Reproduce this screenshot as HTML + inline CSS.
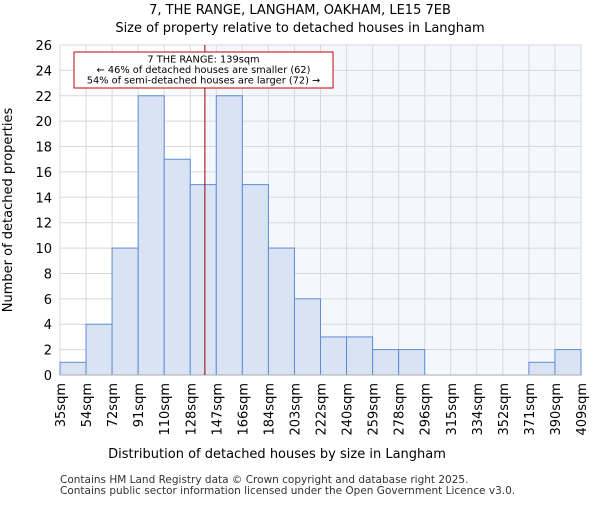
<!DOCTYPE html>
<html><head><meta charset="utf-8"><style>
body{margin:0;background:#fff;font-family:"Liberation Sans","DejaVu Sans",sans-serif}
</style></head><body>
<svg id="c" width="600" height="500" xmlns="http://www.w3.org/2000/svg" font-family="DejaVu Sans, Liberation Sans, sans-serif">
<text x="300" y="14" text-anchor="middle" font-size="13">7, THE RANGE, LANGHAM, OAKHAM, LE15 7EB</text>
<text x="300" y="32" text-anchor="middle" font-size="13">Size of property relative to detached houses in Langham</text>
<g id="plot"></g>
<text x="277" y="458" text-anchor="middle" font-size="13">Distribution of detached houses by size in Langham</text>
<text transform="translate(12,210) rotate(-90)" text-anchor="middle" font-size="13">Number of detached properties</text>
<text x="60" y="483" font-size="10.5" fill="#333">Contains HM Land Registry data © Crown copyright and database right 2025.</text>
<text x="60" y="494" font-size="10.5" fill="#333">Contains public sector information licensed under the Open Government Licence v3.0.</text>
</svg>
<script>
const categories=["35sqm","54sqm","72sqm","91sqm","110sqm","128sqm","147sqm","166sqm","184sqm","203sqm","222sqm","240sqm","259sqm","278sqm","296sqm","315sqm","334sqm","352sqm","371sqm","390sqm","409sqm"];
const counts=[1,4,10,22,17,15,22,15,10,6,3,3,2,2,0,0,0,0,1,2];
const yTicks=[0,2,4,6,8,10,12,14,16,18,20,22,24,26];
const binStart=35, binEnd=409, propertySize=139;
const X0=60,X1=581,Y0=375,Y1=45,YMAX=26;
const NS="http://www.w3.org/2000/svg";
const g=document.getElementById('plot');
const xb=i=>X0+i*(X1-X0)/counts.length;
const xv=v=>X0+(v-binStart)/(binEnd-binStart)*(X1-X0);
const y=v=>Y0-v/YMAX*(Y0-Y1);
function mk(t,a){const e=document.createElementNS(NS,t);for(const k in a)e.setAttribute(k,a[k]);g.appendChild(e);return e;}
const px=xv(propertySize);
let e=mk('rect',{x:px,y:Y1,width:X1-px,height:Y0-Y1,fill:'#f4f7fe'});


yTicks.forEach(t=>{let l=mk('line',{x1:X0,x2:X1,y1:y(t),y2:y(t),stroke:'#d8d8d8'});


let tx=mk('text',{x:X0-8,y:y(t)+5,'text-anchor':'end','font-size':'13'});tx.textContent=t;

});
categories.forEach((c,i)=>{const x=xb(i);let l=mk('line',{x1:x,x2:x,y1:Y1,y2:Y0,stroke:'#d8d8d8'});


let tx=mk('text',{transform:`translate(${x+5},${Y0+8}) rotate(-90)`,'text-anchor':'end','font-size':'13'});tx.textContent=c;

});
counts.forEach((v,i)=>{let r=mk('rect',{x:xb(i),y:y(v),width:xb(i+1)-xb(i),height:Y0-y(v),fill:'#dae3f3',stroke:'#5b8dd6','stroke-width':1});

});
let ax=mk('line',{x1:X0,x2:X1,y1:Y0,y2:Y0,stroke:'#aaa'});


let ml=mk('line',{x1:px,x2:px,y1:Y1,y2:Y0,stroke:'#990000','stroke-width':1});


let bx=mk('rect',{x:74,y:52,width:259,height:36,fill:'#fff',stroke:'#c00000','stroke-width':1});


["7 THE RANGE: 139sqm","← 46% of detached houses are smaller (62)","54% of semi-detached houses are larger (72) →"].forEach((s,i)=>{let t=mk('text',{x:203.5,y:62.5+i*10.5,'text-anchor':'middle','font-size':'9.8'});t.textContent=s;

});
</script>
</body></html>
